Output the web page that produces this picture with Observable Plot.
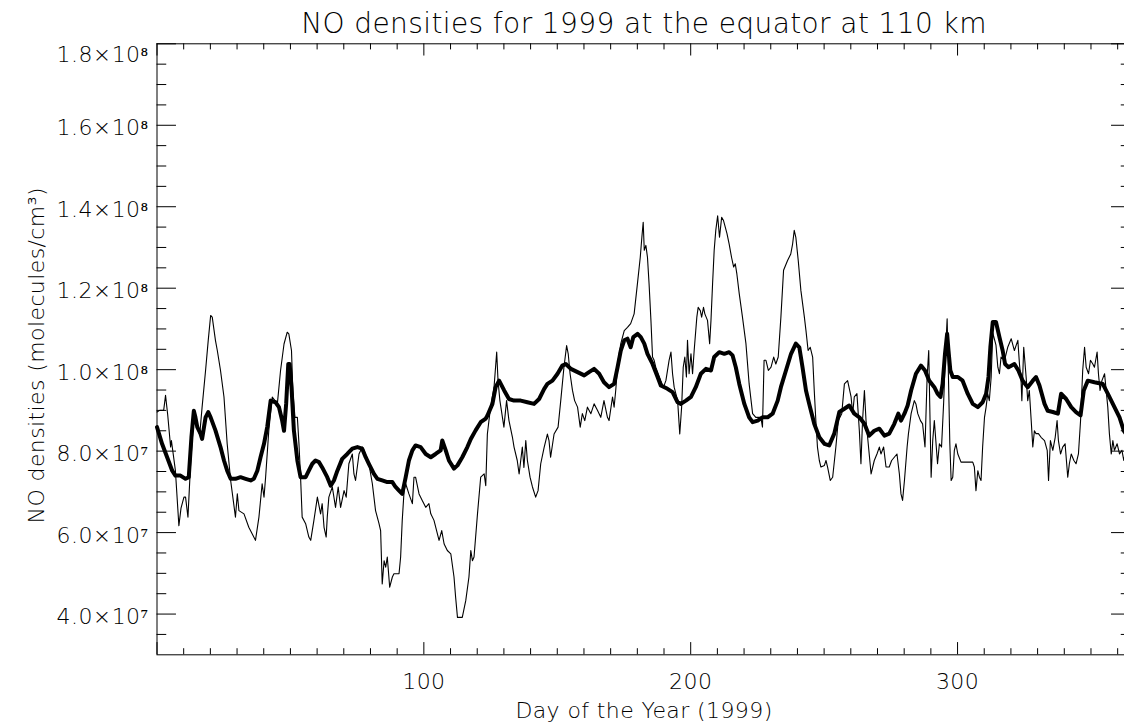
<!DOCTYPE html>
<html>
<head>
<meta charset="utf-8">
<script src="https://cdn.jsdelivr.net/npm/d3@7"></script>
<script src="https://cdn.jsdelivr.net/npm/@observablehq/plot@0.6"></script>
<style>
  html, body { margin: 0; padding: 0; background: #fff; overflow: hidden; }
  #title {
    box-sizing: border-box;
    height: 40px;
    margin-left: 157px;
    width: 974px;
    padding-top: 7px;
    line-height: 33px;
    text-align: center;
    font-family: "DejaVu Sans", sans-serif;
    font-weight: 200;
    font-size: 28px;
    letter-spacing: 0.4px;
    color: #000;
    white-space: nowrap;
  }
</style>
</head>
<body>
<div id="title"></div>
<div id="chart"></div>
<script>
// Daily NO density at 110 km, equator, 1999 (units of 10^7 molecules/cm^3)
const dailyDay = [
  0.0, 1.0, 2.5, 3.2, 4.0, 5.1, 5.4, 6.9, 8.2, 9.0, 10.1, 10.7, 11.6, 12.6, 13.8, 15.0, 16.0, 16.9,
  18.2, 19.2, 20.1, 20.7, 21.9, 22.6, 23.8, 25.1, 26.3, 27.6, 29.4, 30.1, 30.7, 32.6, 34.4, 36.9,
  38.2, 39.4, 40.1, 40.7, 41.9, 43.2, 45.1, 46.3, 47.6, 48.8, 49.4, 50.4, 50.9, 51.7, 52.6, 53.2,
  53.8, 54.4, 55.7, 56.9, 57.6, 58.8, 60.1, 61.3, 61.9, 62.6, 63.4, 63.8, 64.4, 65.7, 66.9, 67.9,
  68.8, 70.1, 70.9, 71.9, 73.2, 73.8, 74.4, 75.7, 76.9, 77.6, 79.4, 80.7, 81.9, 83.2, 83.8, 84.4,
  85.1, 85.7, 86.3, 87.2, 88.2, 88.8, 90.7, 91.3, 91.9, 92.6, 93.2, 94.4, 95.7, 96.3, 96.9, 98.2,
  99.4, 100.7, 101.9, 102.6, 103.8, 105.7, 106.7, 107.6, 108.8, 110.1, 111.3, 111.9, 112.6, 114.4,
  115.7, 116.9, 117.6, 118.2, 118.8, 120.1, 121.3, 122.6, 123.2, 123.8, 125.0, 126.3, 127.3, 127.8,
  128.5, 130.0, 131.0, 131.9, 133.2, 133.8, 135.0, 135.7, 136.9, 137.5, 138.2, 138.8, 139.8, 140.7,
  141.9, 142.8, 143.8, 145.1, 146.3, 146.9, 147.5, 148.8, 150.3, 151.3, 152.5, 153.5, 154.1, 154.8,
  155.7, 156.5, 157.6, 158.6, 159.4, 160.3, 161.3, 162.6, 163.8, 165.1, 166.3, 167.5, 168.8, 169.4,
  170.7, 171.3, 171.9, 172.8, 173.8, 175.1, 176.3, 177.5, 178.8, 180.1, 181.1, 181.7, 182.2, 182.6,
  183.2, 183.8, 184.4, 185.1, 185.7, 186.3, 186.9, 188.8, 189.8, 190.7, 191.9, 192.6, 193.2, 193.8,
  195.1, 195.9, 196.6, 197.2, 197.8, 198.4, 198.8, 199.4, 200.1, 200.7, 201.3, 202.3, 202.8, 203.6,
  204.1, 204.8, 205.3, 206.3, 207.1, 207.6, 208.2, 208.8, 209.4, 210.1, 210.8, 211.6, 212.3, 213.6,
  214.4, 215.3, 216.1, 216.7, 217.3, 218.2, 219.4, 220.7, 221.9, 223.2, 224.4, 226.3, 226.9, 227.5,
  228.2, 229.1, 230.1, 231.1, 231.9, 232.8, 233.8, 234.8, 236.3, 237.5, 238.2, 238.8, 239.4, 240.3,
  241.3, 242.6, 243.2, 244.0, 244.8, 245.7, 246.3, 246.9, 247.5, 248.2, 248.8, 250.1, 250.7, 251.3,
  252.3, 253.2, 254.4, 255.3, 256.6, 257.6, 258.8, 260.1, 260.7, 261.3, 262.3, 263.2, 263.8, 264.4,
  265.1, 265.7, 266.3, 267.6, 268.8, 269.8, 270.7, 271.3, 272.3, 273.2, 274.4, 275.3, 276.3, 277.3,
  278.2, 278.8, 279.4, 280.1, 281.1, 281.6, 282.6, 283.8, 284.4, 285.1, 286.1, 286.9, 287.8, 288.6,
  289.2, 289.6, 290.1, 290.7, 291.3, 292.5, 293.2, 294.0, 294.8, 295.4, 296.1, 296.6, 297.1, 297.6,
  298.2, 298.8, 299.4, 300.1, 301.3, 303.8, 305.7, 306.3, 306.9, 307.6, 308.2, 308.8, 309.4, 310.1,
  310.7, 311.3, 311.9, 312.6, 313.2, 314.4, 315.1, 315.7, 316.3, 317.6, 318.8, 320.1, 321.3, 322.6,
  323.2, 323.8, 324.1, 324.8, 325.7, 326.3, 326.9, 327.6, 328.2, 328.8, 329.4, 330.3, 331.3, 332.6,
  333.6, 334.1, 334.8, 335.7, 336.6, 337.3, 337.8, 338.6, 339.4, 340.3, 341.3, 341.9, 342.6, 343.6,
  344.4, 345.3, 346.1, 346.9, 347.6, 348.2, 349.1, 349.8, 350.7, 351.3, 352.3, 352.8, 353.4, 354.1,
  355.1, 355.7, 356.3, 356.9, 357.6, 358.2, 358.8, 359.8, 360.7, 361.6, 362.3, 363.0, 364.0
];
const dailyNO = [
  8.96, 9.00, 9.00, 9.37, 8.90, 8.10, 8.26, 7.52, 6.17, 6.60, 6.87, 6.87, 6.38, 7.70, 8.83, 8.60, 8.40, 9.08,
  9.98, 10.72, 11.33, 11.29, 10.72, 10.47, 9.98, 9.33, 8.18, 7.28, 6.38, 6.95, 6.54, 6.46, 6.13, 5.81,
  6.38, 7.20, 6.87, 7.36, 8.51, 9.33, 9.16, 9.98, 10.63, 10.92, 10.88, 10.47, 9.49, 8.83, 8.83, 8.18,
  7.36, 6.38, 6.22, 5.89, 5.81, 6.30, 6.87, 6.46, 6.71, 6.13, 5.89, 6.38, 6.87, 7.12, 6.62, 7.12,
  6.62, 7.03, 6.87, 7.69, 7.93, 7.44, 7.28, 7.93, 8.10, 8.02, 7.69, 7.20, 6.54, 6.22, 6.05, 4.74,
  5.31, 5.15, 5.40, 4.66, 4.91, 4.99, 4.99, 5.40, 6.30, 7.03, 7.20, 6.95, 6.71, 7.36, 7.36, 6.95,
  6.79, 6.62, 6.71, 6.46, 6.30, 5.81, 6.05, 5.72, 5.56, 5.48, 4.91, 4.42, 3.92, 3.92,
  4.33, 4.91, 5.56, 5.31, 5.40, 6.46, 7.36, 7.44, 7.15, 8.42, 9.08, 9.57, 10.43, 9.73,
  9.24, 8.59, 9.24, 8.75, 8.34, 8.10, 7.77, 7.44, 8.10, 7.60, 8.26, 7.77, 7.36, 7.12,
  6.87, 7.03, 7.69, 8.10, 8.42, 8.26, 7.85, 8.42, 8.59, 9.24, 10.06, 10.59, 10.39, 9.90,
  9.49, 9.24, 9.08, 8.59, 8.92, 8.75, 9.08, 8.92, 9.16, 9.00, 8.83, 9.24, 8.83, 8.75,
  9.33, 9.08, 9.49, 10.23, 10.64, 10.96, 11.04, 11.13, 11.37, 12.15, 12.76, 13.25, 13.62, 12.93,
  13.05, 12.76, 12.11, 11.21, 10.31, 10.23, 10.06, 9.73, 9.57, 9.73, 10.23, 10.43, 9.90, 9.57,
  9.24, 8.42, 9.08, 10.06, 10.31, 9.82, 10.72, 9.90, 10.39, 9.90, 10.47, 11.29, 11.53, 11.45,
  11.29, 11.53, 11.37, 11.21, 10.64, 11.21, 12.11, 12.93, 13.42, 13.78, 13.25, 13.74, 13.66, 13.34,
  13.09, 12.76, 12.52, 12.60, 12.35, 11.86, 11.29, 10.64, 9.65, 8.92, 8.83, 8.83, 8.59, 10.23,
  10.23, 9.98, 10.06, 10.31, 10.14, 10.31, 11.29, 12.44, 12.68, 12.84, 13.09, 13.42, 13.25, 12.68,
  11.94, 11.29, 10.96, 10.47, 10.55, 10.31, 9.49, 8.75, 8.10, 7.77, 7.61, 7.65, 7.77, 7.61,
  7.28, 7.36, 8.10, 8.75, 8.92, 9.65, 9.73, 9.33, 8.92, 9.33, 9.41, 8.50, 7.69, 8.75,
  9.49, 8.75, 8.34, 7.44, 7.77, 7.93, 8.10, 7.93, 8.10, 7.61, 7.61, 7.77, 7.85, 7.93,
  7.44, 6.95, 6.79, 7.28, 8.10, 8.43, 8.92, 9.24, 9.16, 8.92, 8.75, 8.67, 8.10, 9.82,
  10.47, 9.08, 7.36, 8.26, 8.75, 7.69, 8.18, 8.10, 9.20, 10.30, 11.25, 9.80, 8.20, 7.28,
  7.36, 8.02, 8.18, 7.93, 7.73, 7.73, 7.73, 7.61, 7.03, 7.52, 7.36, 7.28, 8.10, 8.83,
  9.08, 9.41, 9.24, 9.82, 10.90, 10.60, 10.06, 9.90, 10.31, 10.23, 10.55, 10.76, 10.47, 10.72,
  10.14, 9.73, 9.24, 10.55, 9.82, 9.24, 9.49, 8.75, 8.10, 8.50, 8.43, 8.43, 8.34, 8.26,
  8.02, 7.28, 8.26, 8.02, 8.34, 8.75, 8.26, 7.93, 8.10, 8.18, 7.36, 7.69, 7.93, 7.77,
  7.69, 7.93, 8.75, 9.98, 10.55, 10.06, 9.90, 10.23, 10.14, 10.06, 10.43, 9.90, 9.49, 9.73,
  9.90, 9.49, 9.08, 8.43, 7.93, 8.26, 8.02, 8.18, 7.93, 8.02, 7.77, 8.00, 7.80
];

// Smoothed NO density (units of 10^7 molecules/cm^3)
const smoothDay = [
  0.0, 1.9, 3.8, 5.7, 6.9, 8.8, 10.7, 11.9, 12.9, 13.8, 14.4, 15.1, 16.3, 16.9, 18.2, 19.2, 20.1,
  21.9, 23.8, 25.1, 26.3, 27.6, 29.4, 31.3, 33.2, 35.1, 36.3, 37.6, 38.8, 40.1, 41.3, 42.6, 44.4,
  45.7, 46.9, 47.6, 48.4, 49.2, 49.7, 50.4, 51.3, 52.6, 53.8, 55.7, 56.9, 58.2, 59.4, 60.7, 61.9,
  63.8, 65.1, 66.3, 67.6, 69.4, 71.3, 73.2, 75.1, 76.9, 78.2, 79.4, 81.3, 82.6, 84.4, 86.3, 88.2,
  89.4, 90.7, 91.9, 93.2, 94.4, 95.7, 96.9, 98.8, 100.7, 102.6, 104.4, 106.3, 106.9, 108.2, 109.4,
  111.3, 112.6, 114.4, 116.3, 117.6, 119.4, 121.3, 123.2, 123.8, 125.7, 126.9, 128.2, 130.1, 131.9,
  133.8, 136.3, 138.8, 141.3, 143.2, 145.1, 146.3, 148.2, 150.1, 151.9, 153.2, 155.1, 157.6, 160.1,
  161.9, 163.8, 165.7, 167.5, 169.4, 171.3, 172.6, 173.8, 175.1, 176.3, 177.5, 178.5, 180.1, 181.3,
  182.6, 183.8, 185.7, 187.6, 188.8, 191.3, 193.2, 195.1, 196.3, 198.2, 200.1, 201.9, 203.8, 205.7,
  207.6, 208.8, 210.7, 212.6, 214.4, 215.7, 216.9, 218.2, 220.1, 221.9, 223.2, 225.1, 226.9, 228.8,
  230.7, 232.6, 233.8, 235.7, 237.6, 239.4, 240.7, 241.9, 243.2, 244.4, 246.3, 248.2, 250.1, 251.9,
  253.8, 255.7, 257.6, 259.4, 261.3, 263.2, 265.1, 266.9, 268.8, 270.7, 272.6, 274.4, 276.3, 277.8,
  278.8, 280.1, 281.3, 282.6, 284.4, 286.3, 287.8, 289.4, 291.3, 292.5, 293.6, 294.4, 295.3, 296.1,
  296.6, 297.3, 298.2, 300.1, 301.9, 303.8, 305.7, 307.6, 309.4, 310.7, 311.6, 312.3, 313.2, 314.4,
  315.7, 316.9, 317.8, 319.1, 321.3, 322.8, 324.4, 326.3, 328.2, 329.4, 330.7, 332.6, 333.8, 335.7,
  337.6, 338.8, 340.7, 342.6, 344.4, 346.1, 347.3, 348.8, 351.3, 354.4, 356.3, 358.8, 360.7, 362.3,
  364.0
];
const smoothNO = [
  8.59, 8.18, 7.85, 7.52, 7.40, 7.40, 7.32, 7.36, 8.34, 8.99, 8.83, 8.59, 8.43, 8.30, 8.83, 8.96, 8.83,
  8.51, 8.10, 7.77, 7.52, 7.32, 7.32, 7.36, 7.32, 7.28, 7.32, 7.52, 7.85, 8.18, 8.59, 9.24, 9.20,
  9.08, 8.75, 8.50, 9.16, 10.14, 10.14, 9.57, 8.51, 7.77, 7.36, 7.36, 7.52, 7.69, 7.77, 7.73, 7.60,
  7.36, 7.15, 7.28, 7.52, 7.81, 7.93, 8.06, 8.10, 8.06, 7.85, 7.69, 7.44, 7.32, 7.28, 7.24, 7.24,
  7.12, 7.03, 6.95, 7.36, 7.77, 8.02, 8.14, 8.10, 7.93, 7.85, 7.93, 8.02, 8.26, 8.02, 7.77,
  7.57, 7.65, 7.85, 8.10, 8.30, 8.51, 8.71, 8.80, 8.87, 9.16, 9.57, 9.73, 9.49, 9.28,
  9.24, 9.24, 9.20, 9.16, 9.28, 9.53, 9.65, 9.73, 9.90, 10.10, 10.14, 10.02, 9.94, 9.86,
  9.94, 10.02, 9.90, 9.69, 9.57, 9.65, 10.06, 10.47, 10.72, 10.76, 10.55, 10.80, 10.88, 10.80,
  10.64, 10.39, 10.14, 9.82, 9.61, 9.53, 9.45, 9.20, 9.16, 9.24, 9.33, 9.57, 9.90, 10.02,
  9.98, 10.31, 10.43, 10.39, 10.43, 10.35, 10.06, 9.65, 9.16, 8.83, 8.71, 8.75, 8.83, 8.83,
  8.92, 9.24, 9.57, 9.98, 10.39, 10.64, 10.55, 10.06, 9.49, 9.16, 8.67, 8.34, 8.18, 8.14,
  8.43, 8.96, 9.04, 9.12, 8.92, 8.83, 8.67, 8.38, 8.50, 8.55, 8.38, 8.43, 8.67, 8.92,
  8.75, 8.92, 9.12, 9.49, 9.90, 10.10, 9.98, 9.73, 9.57, 9.41, 9.33, 9.65, 10.39, 10.88,
  10.47, 9.98, 9.82, 9.82, 9.73, 9.41, 9.16, 9.08, 9.20, 9.41, 9.82, 10.55, 11.17, 11.17,
  10.80, 10.47, 10.14, 10.06, 10.14, 9.98, 9.73, 9.57, 9.73, 9.82, 9.61, 9.16, 8.99, 8.96,
  8.92, 9.41, 9.28, 9.08, 8.96, 8.88, 9.49, 9.73, 9.69, 9.65, 9.41, 9.08, 8.83, 8.50,
  8.35
];

// Axis ticks: day of year and density
const xMajorTicks = [0, 100, 200, 300];
const xMinorTicks = d3.range(10, 365, 10).filter(d => d % 100 !== 0);
const xTickLabels = [100, 200, 300];
const yMajorTicks = [4e7, 6e7, 8e7, 1e8, 1.2e8, 1.4e8, 1.6e8, 1.8e8];
const yMinorTicks = d3.range(35, 180, 5).map(v => v * 1e6).filter(v => !yMajorTicks.includes(v));

const title = "NO densities for 1999 at the equator at 110 km";
const xTitle = "Day of the Year (1999)";
const yTitle = "NO densities (molecules/cm³)";

const daily = dailyDay.map((d, i) => ({day: d, no: dailyNO[i] * 1e7}));
const smooth = smoothDay.map((d, i) => ({day: d, no: smoothNO[i] * 1e7}));

const SUP = {"0": "⁰", "1": "¹", "2": "²", "3": "³", "4": "⁴", "5": "⁵", "6": "⁶", "7": "⁷", "8": "⁸", "9": "⁹"};
function sci(v) {
  const e = Math.floor(Math.log10(v) + 1e-9);
  const m = v / Math.pow(10, e);
  return m.toFixed(1) + "×10" + String(e).split("").map(c => SUP[c]).join("");
}

const W = 1124, H = 687;
const mL = 156.5, mR = -6.5, mT = 3.3, mB = 72.7;
const plotW = W - mL - mR;
const plotH = H - mT - mB;
const yTick = 0.02 * plotW;   // tick length on the density axes
const xTick = 0.02 * plotH;   // tick length on the day axes
const font = "DejaVu Sans";

document.getElementById("title").textContent = title;

const chart = Plot.plot({
  width: W,
  height: H,
  marginLeft: mL,
  marginRight: mR,
  marginTop: mT,
  marginBottom: mB,
  style: {fontFamily: font, fontWeight: 200, fontSize: "22px", color: "#000", background: "#fff", letterSpacing: "0.4px", maxWidth: "none"},
  x: {domain: [0, 365]},
  y: {domain: [3e7, 1.8e8]},
  marks: [
    // inward ticks on all four sides
    Plot.tickY(yMajorTicks, {y: d => d, insetRight: plotW - yTick, stroke: "#000"}),
    Plot.tickY(yMinorTicks, {y: d => d, insetRight: plotW - yTick / 2, stroke: "#000"}),
    Plot.tickY(yMajorTicks, {y: d => d, insetLeft: plotW - yTick, stroke: "#000"}),
    Plot.tickY(yMinorTicks, {y: d => d, insetLeft: plotW - yTick / 2, stroke: "#000"}),
    Plot.tickX(xMajorTicks, {x: d => d, insetTop: plotH - xTick, stroke: "#000"}),
    Plot.tickX(xMinorTicks, {x: d => d, insetTop: plotH - xTick / 2, stroke: "#000"}),
    Plot.tickX(xMajorTicks, {x: d => d, insetBottom: plotH - xTick, stroke: "#000"}),
    Plot.tickX(xMinorTicks, {x: d => d, insetBottom: plotH - xTick / 2, stroke: "#000"}),
    // tick labels
    Plot.axisY(yMajorTicks.slice(0, -1), {anchor: "left", tickSize: 0, tickPadding: 8.5, tickFormat: sci, fontSize: 22, dy: 3, label: null}),
    Plot.axisY(yMajorTicks.slice(-1), {anchor: "left", tickSize: 0, tickPadding: 8.5, tickFormat: sci, fontSize: 22, dy: 11, label: null}),
    Plot.axisX(xTickLabels, {anchor: "bottom", tickSize: 0, tickPadding: 18.5, tickFormat: d => String(d), fontSize: 22, label: null}),
    // axis titles
    Plot.text([xTitle], {text: d => d, frameAnchor: "bottom", dy: 56, lineAnchor: "middle", fontSize: 22}),
    Plot.text([yTitle], {text: d => d, frameAnchor: "left", rotate: -90, dx: -120, dy: 6, lineAnchor: "middle", textAnchor: "middle", fontSize: 22}),
    // data
    Plot.line(daily, {x: "day", y: "no", stroke: "#000", strokeWidth: 1.1}),
    Plot.line(smooth, {x: "day", y: "no", stroke: "#000", strokeWidth: 4}),
    Plot.frame({stroke: "#000", strokeWidth: 1})
  ]
});
document.getElementById("chart").appendChild(chart);
</script>
</body>
</html>
